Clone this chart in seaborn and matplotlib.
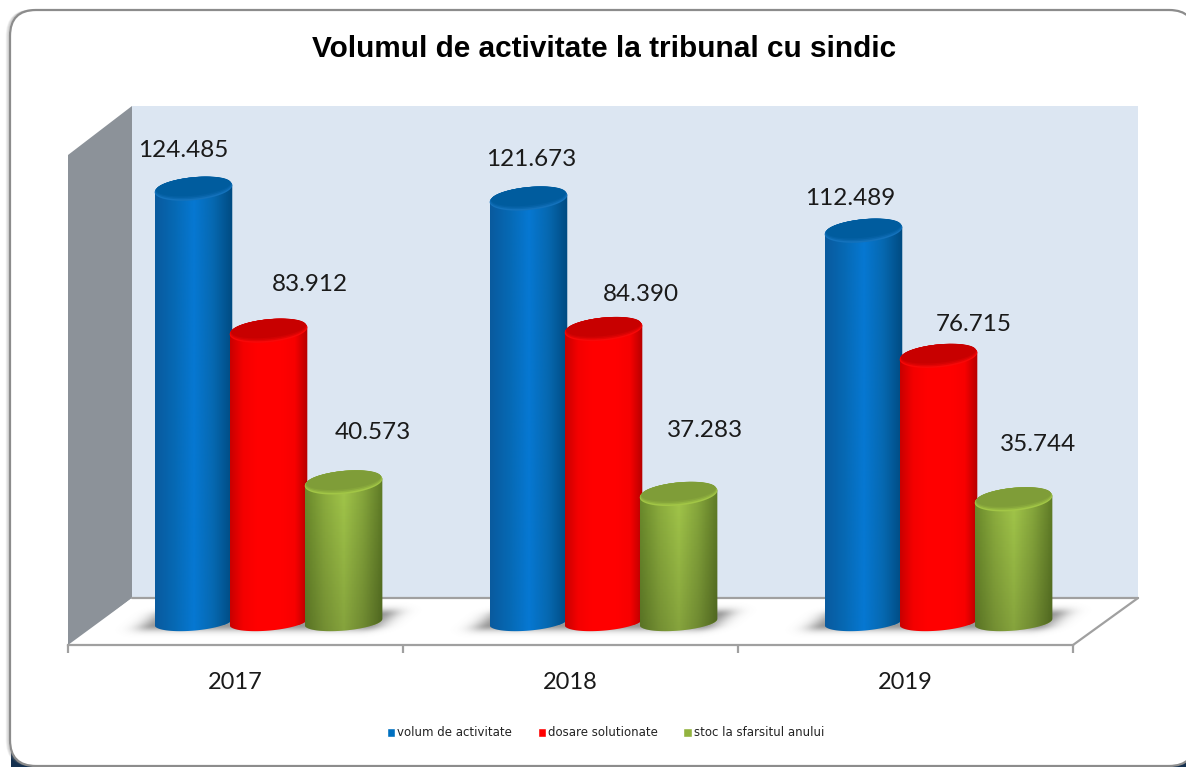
import numpy as np
import pandas as pd
import matplotlib
matplotlib.use("Agg")
import matplotlib.pyplot as plt
from matplotlib.patches import FancyBboxPatch, Polygon, Rectangle
from matplotlib.colors import LinearSegmentedColormap, to_rgb
from matplotlib.ticker import FixedLocator, FixedFormatter
import seaborn as sns

# ---- data ----
years = ["2017", "2018", "2019"]
series_names = ["volum de activitate", "dosare solutionate", "stoc la sfarsitul anului"]
volum = [124485, 121673, 112489]
dosare = [83912, 84390, 76715]
stoc = [40573, 37283, 35744]
title = "Volumul de activitate la tribunal cu sindic"

# ---- styles ----
base_colors = ["#0070C0", "#FF0000", "#92B33F"]
side_ramps = [["#0A5A9E", "#0669B4", "#0678D2", "#0668B0", "#004A80"],
              ["#C80000", "#F40000", "#FF0000", "#FF0000", "#FF0000", "#F80000", "#B40000"],
              ["#6B8A2C", "#8CAD3E", "#A2C64A", "#86A63C", "#5E7A26"]]
cap_colors = ["#005C9E", "#C80000", "#7F9D38"]
rim_colors = ["#1472BC", "#F80808", "#A2C646"]
bottom_dim = [0.0, 0.0, 0.2]
label_shift_px = [[(-10, 38), (41, 46), (29, 50)],
                  [(3, 39), (37, 35), (26, 64)],
                  [(-13, 32), (35, 31), (25, 55)]]

W, H = 1186, 767
PX_PER_UNIT = 3.5 / 1000
Y0 = 624.5

sns.set_theme(style="white")
plt.rcParams["font.family"] = ["Lato", "DejaVu Sans"]

fig = plt.figure(figsize=(W / 100, H / 100), dpi=100, facecolor="white")


def rect_px(x0, y0, x1, y1):
    return [x0 / W, 1 - y1 / H, (x1 - x0) / W, (y1 - y0) / H]


# ---- frame and 3D walls (pixel-space backdrop) ----
bg = fig.add_axes([0, 0, 1, 1], zorder=0)
bg.set_xlim(0, W)
bg.set_ylim(H, 0)
bg.axis("off")
for (cx, cy, w, h) in [(11, 748, 26, 20), (1164, 752, 24, 16)]:
    bg.add_patch(Rectangle((cx, cy), w, h, fc="#14304F", ec="none", zorder=1))
for off, a in [(3.5, .10), (2.5, .18), (1.5, .28)]:
    bg.add_patch(FancyBboxPatch((10 - off, 10), 1185 + off, 756, fc="none", ec="#777777", lw=1, alpha=a,
                                boxstyle="round,pad=0,rounding_size=26", zorder=1.5))
bg.add_patch(FancyBboxPatch((10, 10), 1185, 756, fc="white", ec="#8C8C8C", lw=1.6,
                            boxstyle="round,pad=0,rounding_size=26", zorder=2))
bg.add_patch(Polygon([(132, 106), (1138, 106), (1138, 598), (132, 598)], fc="#DCE6F2", ec="none", zorder=3))
bg.add_patch(Polygon([(68, 155), (132, 106), (132, 598), (68, 645)], fc="#8C9299", ec="none", zorder=3))
bg.add_patch(Polygon([(71, 645), (132, 598), (1138, 598), (1073, 645)], fc="white", ec="none", zorder=3))
bg.plot([132, 1138], [598, 598], color="#A0A0A0", lw=1.6, zorder=4)
bg.plot([1138, 1073], [598, 645], color="#A0A0A0", lw=1.6, zorder=4)

# ---- front plane: category axis ----
front = fig.add_axes(rect_px(68, 106, 1073, 645), zorder=1)
front.patch.set_alpha(0)
front.set_xlim(-0.5, 2.5)
front.set_yticks([])
for s in ["top", "left", "right"]:
    front.spines[s].set_visible(False)
front.spines["bottom"].set_color("#A0A0A0")
front.spines["bottom"].set_linewidth(1.6)
front.xaxis.set_major_locator(FixedLocator([-0.5, 0.5, 1.5, 2.5]))
front.xaxis.set_major_formatter(FixedFormatter(["", "", "", ""]))
front.xaxis.set_minor_locator(FixedLocator([0, 1, 2]))
front.xaxis.set_minor_formatter(FixedFormatter(years))
front.tick_params(axis="x", which="major", length=6, width=1.6, color="#A0A0A0", direction="out", bottom=True)
front.tick_params(axis="x", which="minor", length=0, pad=19.5, labelsize=17, labelcolor="#1A1A1A", bottom=False)

# ---- bars through seaborn ----
ax = fig.add_axes(rect_px(101, 106, 1106, 650), zorder=2)
ax.patch.set_alpha(0)
df = pd.DataFrame({
    "an": years * 3,
    "serie": np.repeat(series_names, 3),
    "valoare": volum + dosare + stoc,
})
sns.barplot(data=df, x="an", y="valoare", hue="serie", hue_order=series_names, order=years,
            palette=base_colors, saturation=1, width=0.672, gap=0, dodge=True, ax=ax, errorbar=None)
ymax = (Y0 - 106) / PX_PER_UNIT
ymin = -(650 - Y0) / PX_PER_UNIT
xlim = (-0.5, 2.5)
handles, labels = ax.get_legend_handles_labels()
if ax.get_legend():
    ax.get_legend().remove()
ax.set_xlim(*xlim)
ax.set_ylim(ymin, ymax)
ax.axis("off")

px_x = 1005 / 3  # pixels per category
half_w = 38.8 / px_x
ell_b = 11.5 / PX_PER_UNIT
tilt = 3.5 / PX_PER_UNIT
base_lift = 2.5 / PX_PER_UNIT
t_top = np.linspace(0, 2 * np.pi, 80)
t_low = np.linspace(np.pi, 2 * np.pi, 40)  # lower half
t_up = np.linspace(0, np.pi, 40)

for k, (cont, ramp, z) in enumerate(zip(ax.containers, side_ramps, [3, 6, 9])):
    cmap_side = LinearSegmentedColormap.from_list(f"s{k}", ramp)
    for j, p in enumerate(cont.patches):
        cx = p.get_x() + p.get_width() / 2
        v = p.get_height()
        p.set_x(cx - half_w)
        p.set_width(2 * half_w)
        p.set_edgecolor("none")
        p.set_zorder(z)
        # cylinder outline: upper half of the sheared top ellipse + lower half of the base ellipse
        xb = cx + half_w * np.cos(t_low)
        yb = base_lift + ell_b * 0.75 * np.sin(t_low) + tilt * 0.9 * np.cos(t_low)
        xu = cx + half_w * np.cos(t_up)
        yu = v + ell_b * np.sin(t_up) + tilt * np.cos(t_up)
        outline = Polygon(np.column_stack([np.r_[xu, xb], np.r_[yu, yb]]), closed=True,
                          transform=ax.transData, fc="none", ec="none")
        ax.add_patch(outline)
        grad = np.linspace(0, 1, 256).reshape(1, -1)
        im = ax.imshow(grad, extent=(cx - half_w, cx + half_w, ymin, v + 2 * ell_b), cmap=cmap_side,
                       aspect="auto", zorder=z + 0.5, interpolation="bilinear")
        im.set_clip_path(outline)
        p.set_clip_path(outline)
        if bottom_dim[k] > 0:
            dim = np.zeros((64, 1, 4))
            dim[..., 3] = np.linspace(bottom_dim[k], 0, 64).reshape(-1, 1)
            imd = ax.imshow(dim, extent=(cx - half_w, cx + half_w, ymin, v), origin="lower",
                            aspect="auto", zorder=z + 0.6, interpolation="bilinear")
            imd.set_clip_path(outline)
        # top cap: rim fading into the darker face, as nested ellipses
        rim = np.array(to_rgb(rim_colors[k]))
        face = np.array(to_rgb(cap_colors[k]))
        steps = [(0.0, 1.0, 1.0, 0.0), (0.8, 0.985, 0.93, 0.45), (1.6, 0.97, 0.87, 0.8), (2.4, 0.96, 0.80, 1.0)]
        for n, (lift, sx, sy, mix) in enumerate(steps):
            xf = cx + half_w * sx * np.cos(t_top)
            yf = v + lift / PX_PER_UNIT + ell_b * sy * np.sin(t_top) + tilt * np.cos(t_top)
            ax.add_patch(Polygon(np.column_stack([xf, yf]), closed=True,
                                 fc=tuple(rim * (1 - mix) + face * mix), ec="none", zorder=z + 0.7 + n * 0.05))
        # value label
        dx, dy = label_shift_px[j][k]
        ax.annotate(f"{int(v):,}".replace(",", "."), (cx, v), xytext=(dx, dy), textcoords="offset pixels",
                    ha="center", va="center", fontsize=17.5, color="#1A1A1A", zorder=20,
                    annotation_clip=False)

# ---- soft floor shadows, one per category ----
for j in range(len(years)):
    xs = np.linspace(j - 0.5, j + 0.5, 340)
    ys = np.linspace(-22 / PX_PER_UNIT, 26 / PX_PER_UNIT, 96)
    X, Y = np.meshgrid(xs, ys)
    yup = Y * PX_PER_UNIT
    px = (X - j) * px_x - 1.2 * (yup - 4)
    py = yup - 4
    dx = np.clip(np.abs(px) - 106, 0, None) / 17
    dy = np.clip(np.abs(py) - 5, 0, None) / 6
    A = 0.62 * np.exp(-(dx ** 2 + dy ** 2))
    rgba = np.zeros(A.shape + (4,))
    rgba[..., :3] = 0.35
    rgba[..., 3] = A
    ax.imshow(rgba, extent=(xs[0], xs[-1], ys[0], ys[-1]), origin="lower", aspect="auto", zorder=1,
              interpolation="bilinear")

ax.set_xlim(*xlim)
ax.set_ylim(ymin, ymax)

# ---- title and legend ----
bg.text(604, 49, title, ha="center", va="center", fontsize=21.4, fontweight="bold",
        family="Liberation Sans", color="black", zorder=10)
leg = ax.legend(handles, labels, loc="center", bbox_to_anchor=(605.5, 733),
                bbox_transform=bg.transData, ncol=3, frameon=False,
                prop={"family": "DejaVu Sans", "size": 8.5},
                handlelength=0.75, handleheight=0.75, handletextpad=0.15, columnspacing=2.15, labelcolor="#222222")

fig.savefig("out.png", dpi=100)
